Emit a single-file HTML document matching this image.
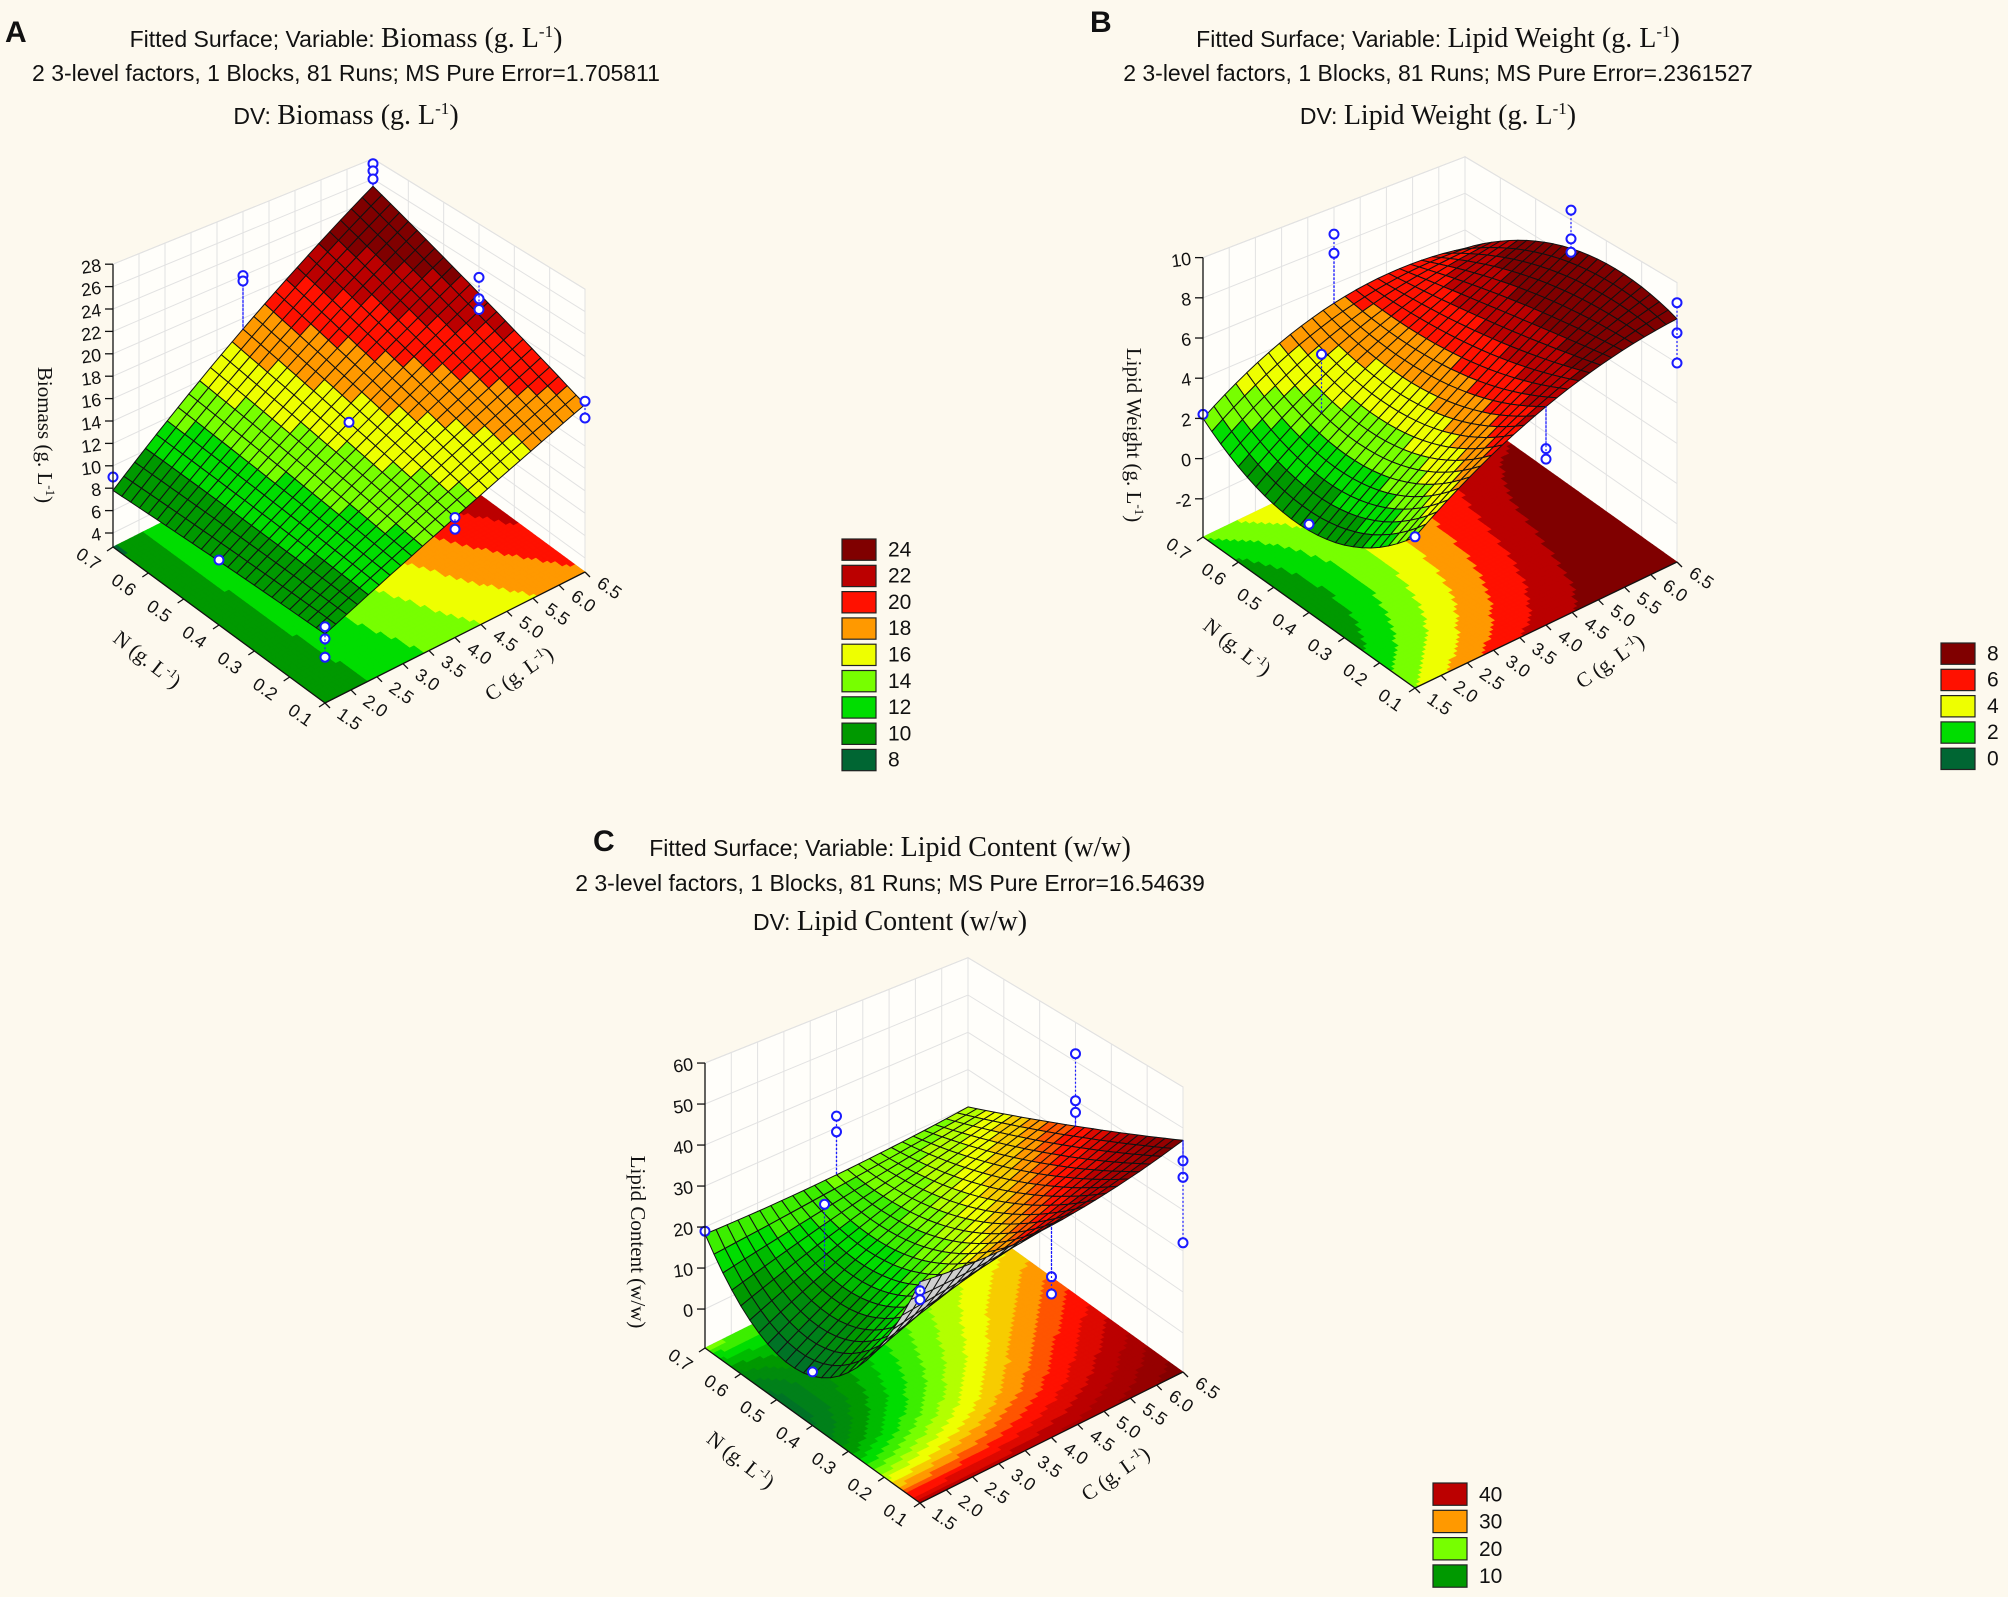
<!DOCTYPE html>
<html><head><meta charset="utf-8"><style>
html,body{margin:0;padding:0;background:#fdf9ee;}
svg{display:block;}
text{font-family:"Liberation Sans",sans-serif;fill:#111;}
.serif{font-family:"Liberation Serif",serif;}
</style></head><body>
<svg id="fig" xmlns="http://www.w3.org/2000/svg" width="2008" height="1597" viewBox="0 0 2008 1597">
<rect x="0" y="0" width="2008" height="1597" fill="#fdf9ee"/>
<g>
<text x="5" y="42" font-size="30" font-weight="bold">A</text>
<text x="346" y="47" text-anchor="middle" font-size="23">Fitted Surface; Variable: <tspan class="serif" font-size="28">Biomass (g. L<tspan dy="-10" font-size="17">-1</tspan><tspan dy="10">)</tspan></tspan></text>
<text x="346" y="81" text-anchor="middle" font-size="23">2 3-level factors, 1 Blocks, 81 Runs; MS Pure Error=1.705811</text>
<text x="346" y="124" text-anchor="middle" font-size="23">DV: <tspan class="serif" font-size="28">Biomass (g. L<tspan dy="-10" font-size="17">-1</tspan><tspan dy="10">)</tspan></tspan></text>
</g>
<g>
<text x="1090" y="32" font-size="30" font-weight="bold">B</text>
<text x="1438" y="47" text-anchor="middle" font-size="23">Fitted Surface; Variable: <tspan class="serif" font-size="28">Lipid Weight (g. L<tspan dy="-10" font-size="17">-1</tspan><tspan dy="10">)</tspan></tspan></text>
<text x="1438" y="81" text-anchor="middle" font-size="23">2 3-level factors, 1 Blocks, 81 Runs; MS Pure Error=.2361527</text>
<text x="1438" y="124" text-anchor="middle" font-size="23">DV: <tspan class="serif" font-size="28">Lipid Weight (g. L<tspan dy="-10" font-size="17">-1</tspan><tspan dy="10">)</tspan></tspan></text>
</g>
<g>
<text x="593" y="851" font-size="30" font-weight="bold">C</text>
<text x="890" y="856" text-anchor="middle" font-size="23">Fitted Surface; Variable: <tspan class="serif" font-size="28">Lipid Content (w/w)</tspan></text>
<text x="890" y="891" text-anchor="middle" font-size="23">2 3-level factors, 1 Blocks, 81 Runs; MS Pure Error=16.54639</text>
<text x="890" y="930" text-anchor="middle" font-size="23">DV: <tspan class="serif" font-size="28">Lipid Content (w/w)</tspan></text>
</g>
<g id="plots"></g>
</svg>
<script>
// ---- data ----
const cLevels = [1.5, 4.0, 6.5];
const nLevels = [0.1, 0.4, 0.7];
const cTicks = [1.5, 2.0, 2.5, 3.0, 3.5, 4.0, 4.5, 5.0, 5.5, 6.0, 6.5];
const nTicks = [0.1, 0.2, 0.3, 0.4, 0.5, 0.6, 0.7];

const biomassN01 = [8.4, 13.0, 17.7];
const biomassN04 = [8.2, 15.0, 21.5];
const biomassN07 = [7.8, 17.0, 25.3];
const biomassZTicks = [4, 6, 8, 10, 12, 14, 16, 18, 20, 22, 24, 26, 28];
const biomassLegend = [24, 22, 20, 18, 16, 14, 12, 10, 8];
const biomassObs = [[6.5,0.7,27.5],[6.5,0.7,26.8],[6.5,0.7,26],[1.5,0.7,9],[4,0.7,22],[4,0.7,21.5],[6.5,0.4,23],[6.5,0.4,21],[6.5,0.4,20],[6.5,0.1,18],[6.5,0.1,16.5],[4,0.4,15],[4,0.1,13],[4,0.1,12],[1.5,0.4,8.3],[1.5,0.1,9],[1.5,0.1,8],[1.5,0.1,6.5]];

const lipidWN01 = [3.0, 6.5, 8.2];
const lipidWN04 = [0.0, 4.5, 8.5];
const lipidWN07 = [2.0, 5.0, 5.0];
const lipidWZTicks = [-2, 0, 2, 4, 6, 8, 10];
const lipidWLegend = [8, 6, 4, 2, 0];
const lipidWObs = [[4,0.7,8.6],[4,0.7,7.6],[6.5,0.4,10.5],[6.5,0.4,9],[6.5,0.4,8.3],[6.5,0.1,9],[6.5,0.1,7.5],[6.5,0.1,6],[4,0.1,4.5],[4,0.1,4],[1.5,0.7,2.2],[1.5,0.4,0.3],[1.5,0.1,3],[2.75,0.55,5.5]];

const lipidCN01 = [40, 40, 47];
const lipidCN04 = [2, 20, 33.5];
const lipidCN07 = [18.3, 18, 20];
const lipidCZTicks = [0, 10, 20, 30, 40, 50, 60];
const lipidCLegend = [40, 30, 20, 10];
const lipidCObs = [[4,0.7,33],[4,0.7,29],[6.5,0.4,52],[6.5,0.4,40],[6.5,0.4,37],[6.5,0.1,42],[6.5,0.1,38],[6.5,0.1,22],[4,0.1,28],[4,0.1,24],[1.5,0.7,19],[1.5,0.4,3],[1.5,0.1,38],[1.5,0.1,36],[2.75,0.55,27]];

const SVGNS = "http://www.w3.org/2000/svg";
const root = document.getElementById('plots');
function el(tag, attrs, parent) {
  const e = document.createElementNS(SVGNS, tag);
  for (const k in attrs) e.setAttribute(k, attrs[k]);
  (parent || root).appendChild(e);
  return e;
}
function hex(c){return [parseInt(c.substr(1,2),16),parseInt(c.substr(3,2),16),parseInt(c.substr(5,2),16)];}
function makeColor(stops, cols, step) {
  return function(v) {
    v = Math.ceil(v / step - 1e-9) * step;
    if (v <= stops[0]) return cols[0];
    if (v >= stops[stops.length-1]) return cols[cols.length-1];
    let i = 0; while (v > stops[i+1]) i++;
    const t = (v - stops[i]) / (stops[i+1] - stops[i]);
    const a = hex(cols[i]), b = hex(cols[i+1]);
    return 'rgb(' + a.map((x,j)=>Math.round(x + (b[j]-x)*t)).join(',') + ')';
  };
}
const palette = ['#006633','#009900','#00dd00','#77ff00','#eeff00','#ff9900','#ff1100','#bb0000','#800000'];

function L3(t){return [2*(t-0.5)*(t-1), -4*t*(t-1), 2*t*(t-0.5)];}

function panel(cfg) {
  const g = el('g', {});
  
  
  const rows = cfg.rows;
  const cMin = cLevels[0], cMax = cLevels[2], nMin = nLevels[0], nMax = nLevels[2];
  const uOf = c => (c - cMin) / (cMax - cMin);
  const vOf = n => (n - nMin) / (nMax - nMin);
  function val(u, v) {
    const a = L3(u), b = L3(v); let s = 0;
    for (let i = 0; i < 3; i++) for (let j = 0; j < 3; j++) s += b[i] * a[j] * rows[i][j];
    return s;
  }
  const F = cfg.F, R = cfg.R, Lc = cfg.L, zf = cfg.zf, k = cfg.k;
  function P(u, v, z) {
    const f = 1 + 0.09 * (1 - (u + v));
    return [F[0] + u*(R[0]-F[0]) + v*(Lc[0]-F[0]),
            F[1] + u*(R[1]-F[1]) + v*(Lc[1]-F[1]) - (z - zf) * k * f];
  }
  const pts = a => a.map(p => p[0].toFixed(1)+','+p[1].toFixed(1)).join(' ');
  const zTop = cfg.zTicks[cfg.zTicks.length-1];
  const wall1 = el('polygon', {points: pts([P(0,1,zf),P(1,1,zf),P(1,1,zTop),P(0,1,zTop)]), fill:'#fffefa', stroke:'#d8d8d8', 'stroke-width':1}, g);
  
  
  const wall2 = el('polygon', {points: pts([P(1,1,zf),P(1,0,zf),P(1,0,zTop),P(1,1,zTop)]), fill:'#fffefa', stroke:'#d8d8d8', 'stroke-width':1}, g);
  
  
  const grid = el('g', {stroke:'#e2e2e2', 'stroke-width':1, fill:'none'}, g);
  
  
  cfg.zTicks.forEach(z => {
    el('polyline', {points: pts([P(0,1,z),P(1,1,z),P(1,0,z)])}, grid);
  });
  cTicks.forEach(c => { const u = uOf(c); el('line', {x1:P(u,1,zf)[0], y1:P(u,1,zf)[1], x2:P(u,1,zTop)[0], y2:P(u,1,zTop)[1]}, grid); });
  nTicks.forEach(n => { const v = vOf(n); el('line', {x1:P(1,v,zf)[0], y1:P(1,v,zf)[1], x2:P(1,v,zTop)[0], y2:P(1,v,zTop)[1]}, grid); });
  const floor = el('g', {}, g);
  
  
  const FN = 60;
  for (let i = 0; i < FN; i++) for (let j = 0; j < FN; j++) {
    const u0=i/FN,u1=(i+1)/FN,v0=j/FN,v1=(j+1)/FN;
    const col = cfg.color(val((u0+u1)/2,(v0+v1)/2));
    el('polygon', {points: pts([P(u0,v0,zf),P(u1,v0,zf),P(u1,v1,zf),P(u0,v1,zf)]), fill:col, stroke:col, 'stroke-width':0.7}, floor);
  }
  const surf = el('g', {stroke:'#111', 'stroke-width':1, 'stroke-linejoin':'round'}, g);
  
  
  const SN = 24, quads = [];
  const a0 = P(0,0,zf), a1 = P(1,0,zf), a2 = P(0,1,zf);
  const floorSign = Math.sign((a1[0]-a0[0])*(a2[1]-a0[1]) - (a1[1]-a0[1])*(a2[0]-a0[0]));
  for (let i = 0; i < SN; i++) for (let j = 0; j < SN; j++) {
    const u0=i/SN,u1=(i+1)/SN,v0=j/SN,v1=(j+1)/SN;
    const p00=P(u0,v0,val(u0,v0)), p10=P(u1,v0,val(u1,v0)), p11=P(u1,v1,val(u1,v1)), p01=P(u0,v1,val(u0,v1));
    const cr = (p10[0]-p00[0])*(p01[1]-p00[1]) - (p10[1]-p00[1])*(p01[0]-p00[0]);
    const col = Math.sign(cr) === floorSign ? cfg.color(val((u0+u1)/2,(v0+v1)/2)) : '#cfcfcf';
    quads.push({d: u0+u1+v0+v1, p:[p00,p10,p11,p01], col});
  }
  quads.sort((a,b) => b.d - a.d);
  quads.forEach(q => el('polygon', {points: pts(q.p), fill:q.col}, surf));
  const obs = el('g', {fill:'#fff', stroke:'#1a1aff', 'stroke-width':2}, g);
  
  
  cfg.obs.forEach(o => {
    const u = uOf(o[0]), v = vOf(o[1]);
    const p = P(u, v, o[2]), s = P(u, v, val(u, v));
    el('line', {x1:p[0], y1:p[1], x2:s[0], y2:s[1], 'stroke-dasharray':'2,2', 'stroke-width':1.2}, obs);
    const c = el('circle', {cx:p[0].toFixed(1), cy:p[1].toFixed(1), r:4.5}, obs);
    
    
  });
  const ax = el('g', {stroke:'#111', 'stroke-width':1.3, fill:'none'}, g);
  
  
  el('line', {x1:P(0,1,zf)[0], y1:P(0,1,zf)[1], x2:P(0,1,zTop)[0], y2:P(0,1,zTop)[1]}, ax);
  el('line', {x1:P(0,1,zf)[0], y1:P(0,1,zf)[1], x2:F[0], y2:F[1]}, ax);
  el('line', {x1:F[0], y1:F[1], x2:R[0], y2:R[1]}, ax);
  const labs = el('g', {'font-size':18}, g);
  
  
  cfg.zTicks.forEach(z => {
    const p = P(0,1,z);
    el('line', {x1:p[0]-8, y1:p[1], x2:p[0], y2:p[1]}, ax);
    const t = el('text', {x:(p[0]-12).toFixed(1), y:(p[1]+7).toFixed(1), 'text-anchor':'end', transform:'rotate(-8 '+(p[0]-12)+' '+p[1]+')'}, labs);
    t.textContent = String(z);
    
    
  });
  nTicks.forEach(n => {
    const p = P(0, vOf(n), zf);
    el('line', {x1:p[0], y1:p[1], x2:p[0]-6, y2:p[1]+4}, ax);
    const x = p[0]-28, y = p[1]+17;
    const t = el('text', {x:x.toFixed(1), y:y.toFixed(1), 'text-anchor':'middle', transform:'rotate(35 '+x+' '+y+')'}, labs);
    t.textContent = n.toFixed(1);
    
    
  });
  cTicks.forEach(c => {
    const p = P(uOf(c), 0, zf);
    el('line', {x1:p[0], y1:p[1], x2:p[0]+5, y2:p[1]+5}, ax);
    const x = p[0]+21, y = p[1]+21;
    const t = el('text', {x:x.toFixed(1), y:y.toFixed(1), 'text-anchor':'middle', transform:'rotate(35 '+x+' '+y+')'}, labs);
    t.textContent = c.toFixed(1);
    
    
  });
  const pm = P(0, 0.5, zf), nx = pm[0]-76, ny = pm[1]+40;
  const nt = el('text', {x:nx, y:ny, 'text-anchor':'middle', 'font-size':21, class:'serif', transform:'rotate(38 '+nx+' '+ny+')'}, g);
  nt.innerHTML = 'N (g. L<tspan dy="-8" font-size="13">-1</tspan><tspan dy="8">)</tspan>';
  
  
  const pc = P(0.5, 0, zf), cx = pc[0]+68, cy = pc[1]+42;
  const ct = el('text', {x:cx, y:cy, 'text-anchor':'middle', 'font-size':21, class:'serif', transform:'rotate(-35 '+cx+' '+cy+')'}, g);
  ct.innerHTML = 'C (g. L<tspan dy="-8" font-size="13">-1</tspan><tspan dy="8">)</tspan>';
  
  
  const zt = el('text', {x:cfg.zTitle[0], y:cfg.zTitle[1], 'text-anchor':'middle', 'font-size':21, class:'serif', transform:'rotate(90 '+cfg.zTitle[0]+' '+cfg.zTitle[1]+')'}, g);
  zt.innerHTML = cfg.zLabel;
  
  
  const lg = el('g', {}, g);
  
  
  cfg.legend.forEach((lv, i) => {
    const y = cfg.legPos[1] + i * cfg.legPos[3];
    const r = el('rect', {x:cfg.legPos[0], y:y, width:34, height:cfg.legPos[3]-5, fill:cfg.color(lv), stroke:'#222', 'stroke-width':1.2}, lg);
    
    
    const t = el('text', {x:cfg.legPos[0]+46, y:y+cfg.legPos[3]-9, 'font-size':21}, lg);
    t.textContent = String(lv);
    
    
  });
}

panel({name:'panel-a-biomass', rows:[biomassN01, biomassN04, biomassN07],
  F:[325,703], R:[585,572], L:[113,547], zf:2.75, k:11.2, zTicks:biomassZTicks,
  color: makeColor([8,10,12,14,16,18,20,22,24], palette, 2),
  obs: biomassObs, legend: biomassLegend, legPos:[842,539,0,26.3],
  zTitle:[38,435], zLabel:'Biomass (g. L<tspan dy="-8" font-size="13">-1</tspan><tspan dy="8">)</tspan>'});
panel({name:'panel-b-lipid-weight', rows:[lipidWN01, lipidWN04, lipidWN07],
  F:[1415,688], R:[1677,562], L:[1203,537], zf:-3.9, k:20.1, zTicks:lipidWZTicks,
  color: makeColor([0,1,2,3,4,5,6,7,8], palette, 1),
  obs: lipidWObs, legend: lipidWLegend, legPos:[1941,643,0,26.3],
  zTitle:[1127,435], zLabel:'Lipid Weight (g. L<tspan dy="-8" font-size="13">-1</tspan><tspan dy="8">)</tspan>'});
panel({name:'panel-c-lipid-content', rows:[lipidCN01, lipidCN04, lipidCN07],
  F:[920,1503], R:[1183,1372], L:[705,1348], zf:-9.5, k:4.1, zTicks:lipidCZTicks,
  color: makeColor([0,10,15,20,25,30,35,40,48], palette, 2.5),
  obs: lipidCObs, legend: lipidCLegend, legPos:[1433,1483,0,27.3],
  zTitle:[631,1242], zLabel:'Lipid Content (w/w)'});
</script>
</body></html>
